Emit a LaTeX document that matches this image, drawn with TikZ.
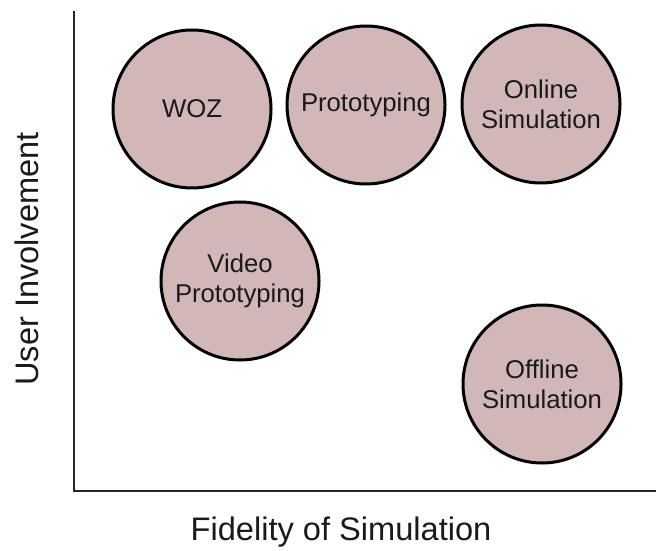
\documentclass[tikz,border=0pt]{standalone}
\usepackage{fontspec}
\setmainfont{Liberation Sans}
\definecolor{blobfill}{HTML}{D1B7B7}
\definecolor{inktext}{HTML}{1A1A1A}
\tikzset{
  blob/.style={circle, draw=black, line width=1.5pt, fill=blobfill, minimum size=79pt, inner sep=0pt,
    align=center, font=\fontsize{12.85pt}{15pt}\selectfont, text=inktext},
  axislabel/.style={font=\fontsize{16.3pt}{19pt}\selectfont, text=inktext, inner sep=0pt, anchor=base},
  axisline/.style={line width=0.9pt, draw=black!85}
}
\begin{document}
\begin{tikzpicture}[x=0.5pt,y=-0.5pt]
\useasboundingbox (0,0) rectangle (656,550);
\coordinate (top) at (74,11);
\coordinate (origin) at (74,491);
\coordinate (right) at (656,491);
\draw[axisline] (top) -- (origin) -- (right);
\node[blob] (woz) at (192,109) {WOZ};
\node[blob] (proto) at (366,105) {Prototyping};
\node[blob] (online) at (541,104) {Online\\Simulation};
\node[blob] (video) at (240,281) {Video\\Prototyping};
\node[blob] (offline) at (542,384) {Offline\\Simulation};
\node[axislabel, rotate=90] (ylab) at (38,259) {User Involvement};
\node[axislabel] (xlab) at (341,540) {Fidelity of Simulation};
\end{tikzpicture}
\end{document}
